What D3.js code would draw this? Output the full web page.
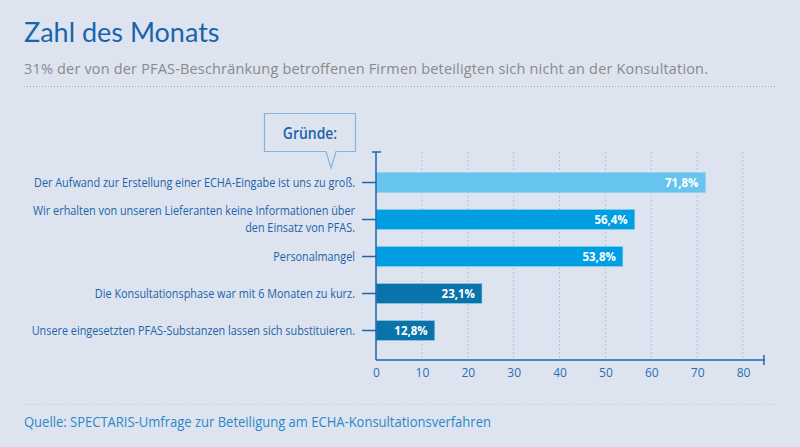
<!DOCTYPE html>
<html>
<head>
<meta charset="utf-8">
<script src="https://cdn.jsdelivr.net/npm/d3@7"></script>
<style>
  body { margin: 0; background: #dde4ef; }
  svg { display: block; }
</style>
</head>
<body>
<svg id="chart" width="800" height="447"></svg>
<script>
(function() {
  // Data
  var categories = [
    ['Der Aufwand zur Erstellung einer ECHA-Eingabe ist uns zu groß.'],
    ['Wir erhalten von unseren Lieferanten keine Informationen über', 'den Einsatz von PFAS.'],
    ['Personalmangel'],
    ['Die Konsultationsphase war mit 6 Monaten zu kurz.'],
    ['Unsere eingesetzten PFAS-Substanzen lassen sich substituieren.']
  ];
  var values = [71.8, 56.4, 53.8, 23.1, 12.8];
  var barColors = ['#67c4ef', '#009ee2', '#009ee2', '#0a74aa', '#0a74aa'];
  var xTicks = [0, 10, 20, 30, 40, 50, 60, 70, 80];

  var title = 'Zahl des Monats';
  var subtitle = '31% der von der PFAS-Beschränkung betroffenen Firmen beteiligten sich nicht an der Konsultation.';
  var source = 'Quelle: SPECTARIS-Umfrage zur Beteiligung am ECHA-Konsultationsverfahren';

  var svg = d3.select('#chart');
  var font = '"Open Sans", sans-serif';
  var blue = '#1c63ab';

  // text squeezed horizontally (the original uses a narrow font)
  var narrowText = function(parent, x0, y0, k) {
    return parent.append('g')
      .attr('transform', 'translate(' + x0 + ',' + y0 + ') scale(' + k + ',1)')
      .append('text');
  };

  // Header
  svg.append('text').attr('x', 24).attr('y', 42)
    .attr('font-family', 'Lato, sans-serif').attr('font-size', 27)
    .attr('fill', '#1a64ad').text(title);
  svg.append('text').attr('x', 24).attr('y', 74)
    .attr('font-family', font).attr('font-size', 14.5)
    .attr('fill', '#8a8a8a').attr('textLength', 684).text(subtitle);
  svg.append('line').attr('x1', 24).attr('x2', 777).attr('y1', 86.5).attr('y2', 86.5)
    .attr('stroke', '#a8a8a8').attr('stroke-width', 1).attr('stroke-dasharray', '1,2');

  // Scales
  var x = d3.scaleLinear().domain([0, 80]).range([376, 743]);
  var y = d3.scaleBand().domain(d3.range(values.length)).range([164, 349]).paddingInner(0.46).paddingOuter(0.23);
  var mid = function(i) { return y(i) + y.bandwidth() / 2; };

  // grid
  svg.append('g').selectAll('line').data(xTicks.slice(1)).enter().append('line')
    .attr('x1', function(d) { return x(d); }).attr('x2', function(d) { return x(d); })
    .attr('y1', 152).attr('y2', 358)
    .attr('stroke', '#9dbde3').attr('stroke-width', 1).attr('stroke-dasharray', '1.5,2.5');

  // bars
  var barG = svg.append('g');
  values.forEach(function(v, i) {
    barG.append('rect')
      .attr('x', x(0)).attr('y', y(i))
      .attr('width', x(v) - x(0)).attr('height', y.bandwidth())
      .attr('fill', barColors[i])
      .attr('stroke', '#8fd0f0').attr('stroke-opacity', 0.6).attr('stroke-width', 1);
    narrowText(barG, x(v) - 7, mid(i), 0.92)
      .attr('dy', '0.35em').attr('text-anchor', 'end')
      .attr('font-family', font).attr('font-weight', 'bold').attr('font-size', 12.5)
      .attr('fill', '#fff')
      .text(d3.format('.1f')(v).replace('.', ',') + '%');
  });

  // y axis
  svg.append('line').attr('x1', x(0)).attr('x2', x(0)).attr('y1', 152).attr('y2', 360)
    .attr('stroke', '#1f66ad').attr('stroke-width', 1.5);
  svg.append('line').attr('x1', 372).attr('x2', 381).attr('y1', 152).attr('y2', 152)
    .attr('stroke', '#1f66ad').attr('stroke-width', 1.5);
  var catG = svg.append('g');
  categories.forEach(function(lines, i) {
    catG.append('line')
      .attr('x1', 362).attr('x2', x(0)).attr('y1', mid(i)).attr('y2', mid(i))
      .attr('stroke', '#1f66ad').attr('stroke-width', 1.5);
    lines.forEach(function(line, j) {
      narrowText(catG, 355, mid(i) + (j - (lines.length - 1) / 2) * 16.5, 0.905)
        .attr('dy', '0.35em').attr('text-anchor', 'end')
        .attr('font-family', font).attr('font-size', 12).attr('fill', blue)
        .text(line);
    });
  });

  // x axis
  var xAxis = d3.axisBottom(x).tickValues(xTicks).tickSize(0).tickPadding(8);
  var gx = svg.append('g').attr('transform', 'translate(0,360)').call(xAxis);
  gx.select('.domain').remove();
  gx.selectAll('text').attr('font-family', font).attr('font-size', 12).attr('fill', '#2a6fb3');
  svg.append('line').attr('x1', x(0)).attr('x2', 764).attr('y1', 360).attr('y2', 360)
    .attr('stroke', '#1f66ad').attr('stroke-width', 1.5);
  svg.append('line').attr('x1', 764).attr('x2', 764).attr('y1', 355).attr('y2', 365)
    .attr('stroke', '#1f66ad').attr('stroke-width', 1.5);

  // callout
  svg.append('path')
    .attr('d', 'M264.5,113.5 H355.5 V151.5 H336 L331,168 L326,151.5 H264.5 Z')
    .attr('fill', 'none').attr('stroke', '#86b4e0').attr('stroke-width', 1.2);
  narrowText(svg, 310, 139, 0.82).attr('text-anchor', 'middle')
    .attr('font-family', font).attr('font-size', 17).attr('font-weight', 600)
    .attr('fill', blue).text('Gründe:');

  // footer
  svg.append('line').attr('x1', 24).attr('x2', 777).attr('y1', 404.5).attr('y2', 404.5)
    .attr('stroke', '#b9cde3').attr('stroke-width', 1).attr('stroke-dasharray', '1,2');
  narrowText(svg, 24, 427, 0.93)
    .attr('font-family', font).attr('font-size', 14)
    .attr('fill', '#2a88c8').text(source);
})();
</script>
</body>
</html>
